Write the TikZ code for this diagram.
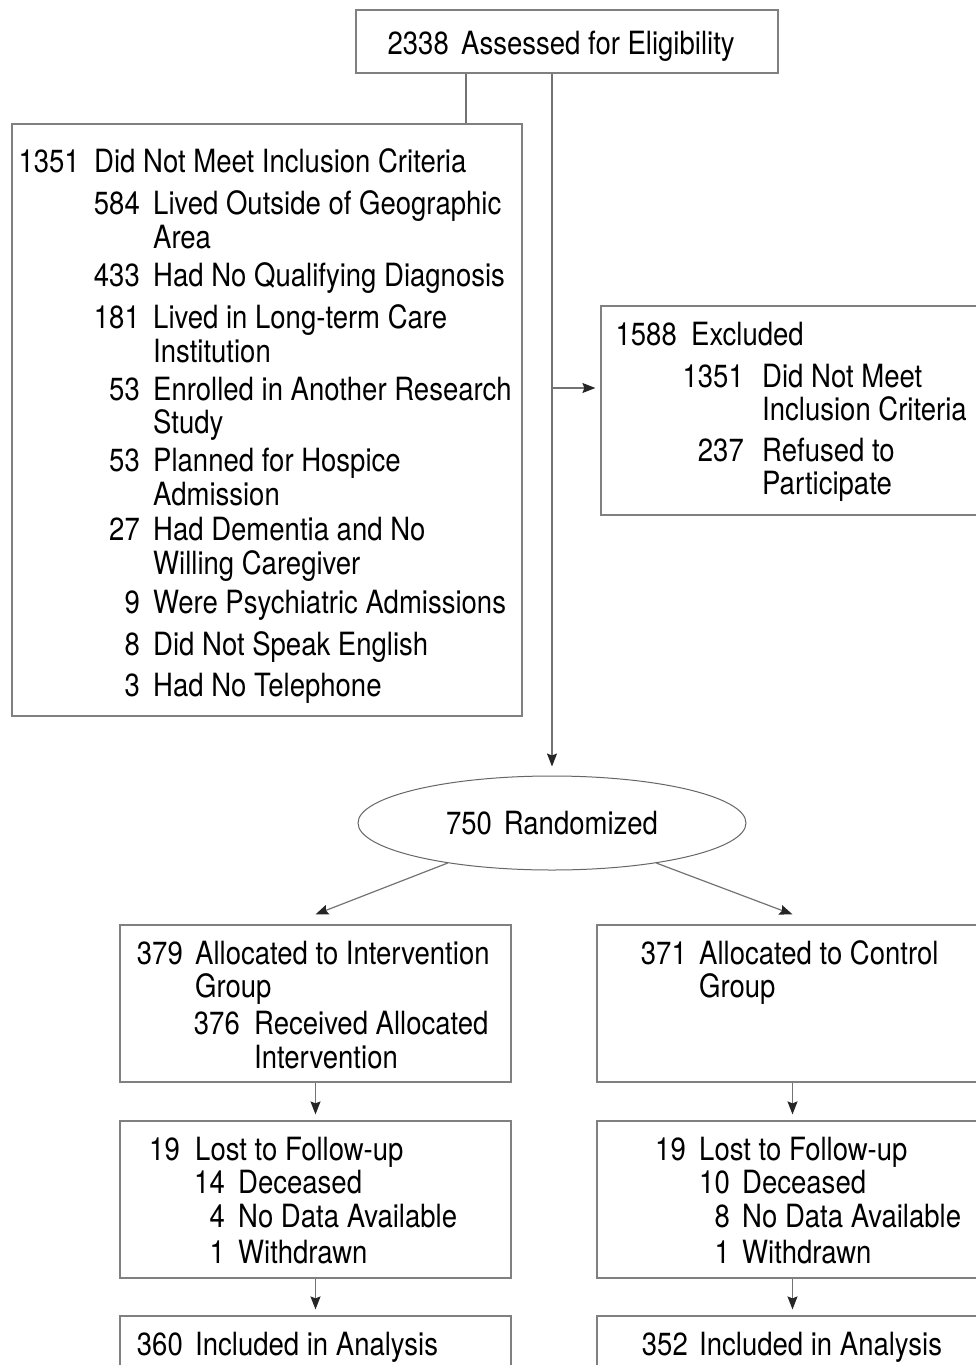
\documentclass[tikz,border=0pt]{standalone}
\usepackage{fontspec}
\setmainfont{TeX Gyre Heros}[FakeStretch=0.86]
\usetikzlibrary{shapes.geometric,arrows.meta}

% one numbered line: name, x of number's right edge, x of text, baseline, number, text
\newcommand\entry[6]{%
  \node[numtxt] (#1n) at (#2,#4) {#5};
  \node[lbltxt] (#1t) at (#3,#4) {#6};}
% continuation line of a wrapped entry
\newcommand\cont[4]{\node[lbltxt] (#1) at (#2,#3) {#4};}

\begin{document}
\begin{tikzpicture}[x=1pt,y=-1pt,
  every node/.style={font=\fontsize{32}{34}\selectfont},
  box/.style={draw=black!50, line width=1.2pt, rectangle, inner sep=0pt},
  oval/.style={draw=black!60, line width=1pt, ellipse, inner sep=0pt},
  numtxt/.style={anchor=base east, inner sep=0pt},
  lbltxt/.style={anchor=base west, inner sep=0pt},
  link/.style={draw=black!55, line width=1.2pt},
  arr/.style={link, -{Stealth[length=13pt,width=10pt,inset=2pt,color=black!85]}}]

\clip (0,0) rectangle (976,1365);
\fill[white] (0,0) rectangle (976,1365);

% boxes
\node[box, minimum width=422pt, minimum height=63pt]  (elig)   at (567,41.5)   {};
\node[box, minimum width=510pt, minimum height=592pt] (incl)   at (267,420)    {};
\node[box, minimum width=394pt, minimum height=209pt] (excl)   at (798,410.5)  {};
\node[oval, minimum width=388pt, minimum height=94pt] (rand)   at (552,823)
  {750\hspace{12pt}Randomized};
\node[box, minimum width=391pt, minimum height=157pt] (alloc1) at (315.5,1003.5) {};
\node[box, minimum width=391pt, minimum height=157pt] (alloc2) at (792.5,1003.5) {};
\node[box, minimum width=391pt, minimum height=157pt] (lost1)  at (315.5,1199.5) {};
\node[box, minimum width=391pt, minimum height=157pt] (lost2)  at (792.5,1199.5) {};
\node[box, minimum width=391pt, minimum height=74pt]  (ana1)   at (315.5,1353)   {};
\node[box, minimum width=391pt, minimum height=74pt]  (ana2)   at (792.5,1353)   {};

% texts
\entry{a}{449}{461}{54}{2338}{Assessed for Eligibility}

\entry{b0}{80}{94}{172}{1351}{Did Not Meet Inclusion Criteria}
\entry{b1}{140}{153}{214}{584}{Lived Outside of Geographic}
\cont{b1c}{153}{248}{Area}
\entry{b2}{140}{153}{286}{433}{Had No Qualifying Diagnosis}
\entry{b3}{140}{153}{328}{181}{Lived in Long-term Care}
\cont{b3c}{153}{362}{Institution}
\entry{b4}{140}{153}{400}{53}{Enrolled in Another Research}
\cont{b4c}{153}{433}{Study}
\entry{b5}{140}{153}{471}{53}{Planned for Hospice}
\cont{b5c}{153}{505}{Admission}
\entry{b6}{140}{153}{540}{27}{Had Dementia and No}
\cont{b6c}{153}{574}{Willing Caregiver}
\entry{b7}{140}{153}{613}{9}{Were Psychiatric Admissions}
\entry{b8}{140}{153}{655}{8}{Did Not Speak English}
\entry{b9}{140}{153}{696}{3}{Had No Telephone}

\entry{c0}{677}{691}{345}{1588}{Excluded}
\entry{c1}{744}{762}{387}{1351}{Did Not Meet}
\cont{c1c}{762}{420}{Inclusion Criteria}
\entry{c2}{744}{762}{461}{237}{Refused to}
\cont{c2c}{762}{494}{Participate}

\entry{d0}{183}{195}{964}{379}{Allocated to Intervention}
\cont{d0c}{195}{997}{Group}
\entry{d1}{240}{254}{1034}{376}{Received Allocated}
\cont{d1c}{254}{1068}{Intervention}

\entry{e0}{687}{699}{964}{371}{Allocated to Control}
\cont{e0c}{699}{997}{Group}

\entry{f0}{180}{195}{1160}{19}{Lost to Follow-up}
\entry{f1}{225}{238}{1193}{14}{Deceased}
\entry{f2}{225}{238}{1227}{4}{No Data Available}
\entry{f3}{225}{238}{1263}{1}{Withdrawn}

\entry{g0}{686}{699}{1160}{19}{Lost to Follow-up}
\entry{g1}{730}{742}{1193}{10}{Deceased}
\entry{g2}{730}{742}{1227}{8}{No Data Available}
\entry{g3}{730}{742}{1263}{1}{Withdrawn}

\entry{h0}{183}{195}{1355}{360}{Included in Analysis}
\entry{h1}{688}{699}{1355}{352}{Included in Analysis}

% connectors
\draw[link] ([xshift=-101pt]elig.south) -- ([xshift=-101pt]elig.south |- incl.north);
\coordinate (branch) at ([xshift=-15pt]elig.south |- 0,388);
\draw[arr, shorten >=9pt] ([xshift=-15pt]elig.south) -- (rand.north);
\draw[arr, shorten >=5pt] (branch) -- (branch -| excl.west);
\draw[arr] (rand.201) -- ([yshift=10pt]alloc1.north);
\draw[arr] (rand.339) -- ([yshift=10pt]alloc2.north);
\draw[arr, shorten >=6pt] (alloc1) -- (lost1);
\draw[arr, shorten >=6pt] (alloc2) -- (lost2);
\draw[arr, shorten >=6pt] (lost1) -- (ana1);
\draw[arr, shorten >=6pt] (lost2) -- (ana2);
\end{tikzpicture}
\end{document}
